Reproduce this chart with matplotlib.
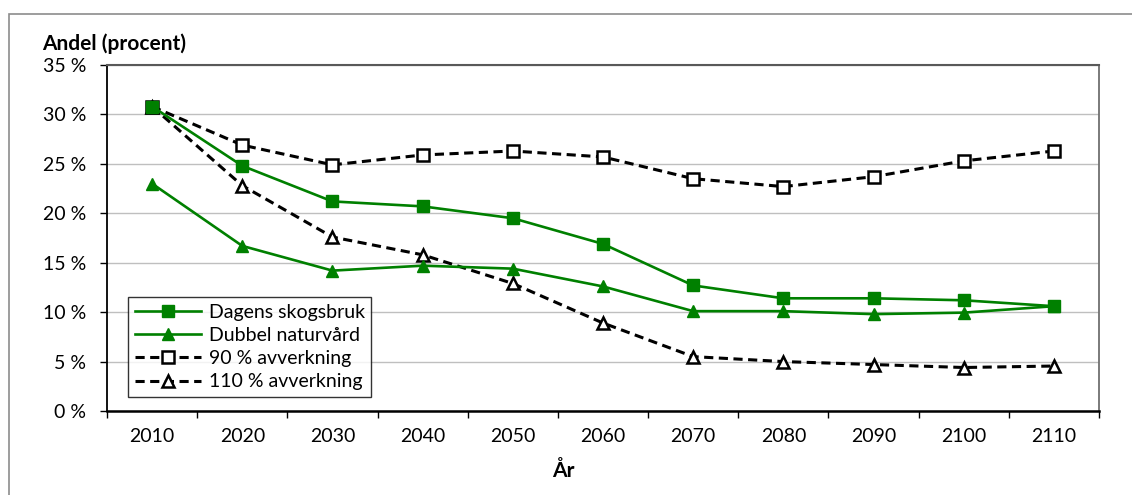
import matplotlib
matplotlib.use('Agg')
import matplotlib.pyplot as plt
from matplotlib.patches import Rectangle
from matplotlib.ticker import FixedLocator, NullFormatter

plt.rcParams['font.family'] = ['Lato', 'DejaVu Sans']

years = ['2010', '2020', '2030', '2040', '2050', '2060', '2070', '2080', '2090', '2100', '2110']
dagens = [30.8, 24.8, 21.2, 20.7, 19.5, 16.9, 12.7, 11.4, 11.4, 11.2, 10.6]
dubbel = [23.0, 16.7, 14.2, 14.7, 14.4, 12.6, 10.1, 10.1, 9.8, 9.95, 10.6]
avv90 = [30.8, 26.9, 24.9, 25.9, 26.3, 25.7, 23.5, 22.7, 23.7, 25.3, 26.3]
avv110 = [30.8, 22.8, 17.6, 15.8, 12.9, 8.9, 5.5, 5.0, 4.7, 4.4, 4.55]
yticks = [0, 5, 10, 15, 20, 25, 30, 35]

green = '#008000'
x = range(len(years))

fig = plt.figure(figsize=(11.32, 4.95), dpi=100)
# yttre ram (går ut över högra och nedre kanten)
fig.patches.append(Rectangle((9 / 1132, -10 / 495), 1140 / 1132, 491 / 495,
                             transform=fig.transFigure, fill=False,
                             edgecolor='#8c8c8c', linewidth=1.2))
ax = fig.add_axes([107 / 1132, 1 - 411 / 495, 992 / 1132, 346 / 495])

ax.plot(x, dagens, color=green, lw=1.9, marker='s', ms=9, label='Dagens skogsbruk', zorder=4)
ax.plot(x, dubbel, color=green, lw=1.9, marker='^', ms=9, label='Dubbel naturvård', zorder=4)
ax.plot(x, avv90, color='black', lw=2.2, ls=(0, (3, 1.8)), marker='s', ms=8.5,
        mfc='white', mec='black', mew=1.8, label='90 % avverkning', zorder=3)
ax.plot(x, avv110, color='black', lw=2.2, ls=(0, (3, 1.8)), marker='^', ms=8.5,
        mfc='white', mec='black', mew=1.8, label='110 % avverkning', zorder=3)

ax.set_xlim(-0.5, len(years) - 0.5)
ax.set_ylim(0, 35)
ax.set_yticks(yticks)
ax.set_yticklabels([f'{v} %' for v in yticks], fontsize=14)
ax.set_xticks(list(x))
ax.set_xticklabels(years, fontsize=14)
ax.xaxis.set_minor_locator(FixedLocator([i - 0.5 for i in range(len(years) + 1)]))
ax.xaxis.set_minor_formatter(NullFormatter())
ax.tick_params(axis='x', which='major', length=0, pad=12)
ax.tick_params(axis='x', which='minor', length=5, width=1, direction='out')
ax.tick_params(axis='y', length=5, width=1, direction='out', pad=10)

ax.grid(axis='y', color='#bfbfbf', lw=1)
ax.set_axisbelow(True)
ax.spines['left'].set_linewidth(1.3)
ax.spines['bottom'].set_linewidth(1.8)
ax.spines['top'].set_color('#595959')
ax.spines['top'].set_linewidth(1.5)
ax.spines['right'].set_color('#707070')
ax.spines['right'].set_linewidth(1.3)

fig.text(563 / 1132, 1 - 477 / 495, 'År', fontsize=15, fontweight='bold',
         ha='center', va='baseline')
fig.text(42 / 1132, 1 - 50 / 495, 'Andel (procent)', fontsize=15, fontweight='bold',
         ha='left', va='baseline')

leg = ax.legend(loc='lower left', bbox_to_anchor=(0.021, 0.04), fontsize=14,
                frameon=True, fancybox=False, edgecolor='black', handlelength=3.4,
                borderpad=0.35, labelspacing=0.32, handletextpad=0.4, borderaxespad=0)
leg.get_frame().set_linewidth(1)

fig.savefig('out.png', dpi=100)
